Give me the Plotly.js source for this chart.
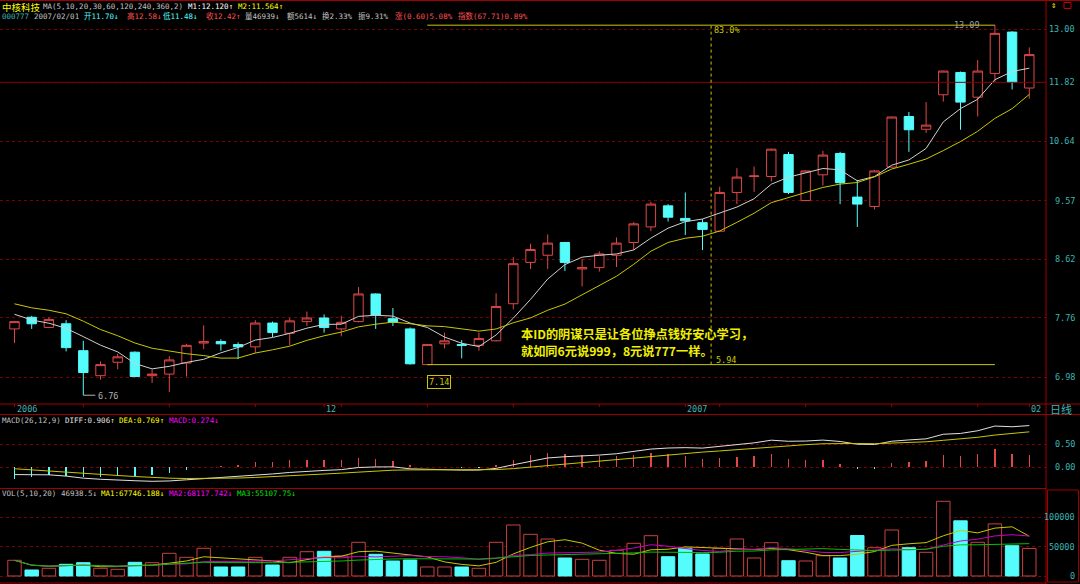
<!DOCTYPE html>
<html><head><meta charset="utf-8">
<script src="https://cdn.plot.ly/plotly-3.0.1.min.js"></script>
<style>html,body{margin:0;padding:0;background:#000;}#chart{width:1080px;height:584px;}</style>
</head><body><div id="chart"></div>
<script>
// ---------------- data ----------------
const dates = [
 '2006-11-07','2006-11-08','2006-11-09','2006-11-10','2006-11-13','2006-11-14','2006-11-15','2006-11-16','2006-11-17',
 '2006-11-20','2006-11-21','2006-11-22','2006-11-23','2006-11-24','2006-11-27','2006-11-28','2006-11-29','2006-11-30',
 '2006-12-01','2006-12-04','2006-12-05','2006-12-06','2006-12-07','2006-12-08','2006-12-11','2006-12-12','2006-12-13',
 '2006-12-14','2006-12-15','2006-12-18','2006-12-19','2006-12-20','2006-12-21','2006-12-22','2006-12-25','2006-12-26',
 '2006-12-27','2006-12-28','2006-12-29',
 '2007-01-04','2007-01-05','2007-01-08','2007-01-09','2007-01-10','2007-01-11','2007-01-12','2007-01-15','2007-01-16',
 '2007-01-17','2007-01-18','2007-01-19','2007-01-22','2007-01-23','2007-01-24','2007-01-25','2007-01-26','2007-01-29',
 '2007-01-30','2007-01-31','2007-02-01'];
const open  = [7.61,7.77,7.63,7.68,7.32,7.00,7.17,7.30,7.00,7.02, 7.16,7.42,7.44,7.40,7.37,7.69,7.55,7.71,7.76,7.61,
               7.71,8.10,7.75,7.61,7.14,7.41,7.40,7.39,7.45,7.96, 8.57,8.68,8.88,8.47,8.49,8.68,8.88,9.13,9.48,9.27,
               9.20,9.06,9.71,9.99,9.99,10.39,9.57,10.02,10.41,9.63, 9.47,10.16,11.12,10.87,11.56,12.03,11.51,12.01,12.93,11.70];
const high  = [7.72,7.79,7.77,7.73,7.45,7.18,7.28,7.31,7.08,7.25, 7.41,7.66,7.47,7.43,7.73,7.71,7.76,7.85,7.81,7.79,
               8.20,8.11,7.90,7.63,7.41,7.56,7.46,7.56,8.11,8.65, 8.86,9.01,8.89,8.62,8.74,8.96,9.21,9.55,9.51,9.71,
               9.26,9.81,10.14,10.17,10.50,10.44,10.10,10.46,10.44,9.93, 10.11,11.12,11.21,11.41,12.07,12.05,12.30,13.09,12.95,12.58];
const low   = [7.42,7.61,7.62,7.31,6.76,6.95,7.08,6.98,6.91,6.80, 6.99,7.34,7.32,7.21,7.29,7.50,7.39,7.65,7.56,7.51,
               7.70,7.61,7.65,7.14,7.14,7.35,7.22,7.32,7.44,7.88, 8.47,8.47,8.44,8.21,8.43,8.50,8.76,9.06,9.22,9.00,
               8.76,9.05,9.51,9.72,9.90,9.68,9.56,9.83,9.51,9.13, 9.42,10.15,10.44,10.80,11.42,10.86,11.12,11.83,11.67,11.48];
const close = [7.71,7.68,7.74,7.36,7.04,7.14,7.24,6.99,7.02,7.20, 7.39,7.44,7.41,7.37,7.69,7.56,7.72,7.76,7.63,7.70,
               8.10,7.80,7.70,7.15,7.40,7.45,7.39,7.48,7.92,8.55, 8.77,8.87,8.57,8.49,8.70,8.87,9.18,9.51,9.29,9.23,
               9.09,9.71,9.98,10.00,10.49,9.71,10.09,10.38,9.88,9.51, 10.09,11.11,10.86,10.95,12.06,11.41,12.06,12.90,11.82,12.42];
const volume = [26747,10222,13118,19932,22658,13118,11414,23339,22658,38672, 31857,47190,15332,15332,31857,18740,31857,41397,42079,34072,
                57411,36968,25554,27258,15332,15332,15332,13118,57411,86884, 71040,63033,30665,28450,26747,43783,55708,68655,32879,47190,
                37479,47190,63033,30665,56730,26065,25554,34583,30665,69014, 48212,78366,48212,40375,127281,94000,57411,88763,51619,46938.5];
// closes of the nine sessions before the window (estimated from where the MA lines start)
const priorCloses = [8.25,8.08,7.86,8.06,8.28,8.08,7.96,7.71,7.60];
// EMA state just before the first session (estimated from the MACD panel)
const emaSeed = {ema12: 7.95, ema26: 8.10, dea: 0.0};

const priceTicks = [13.00, 11.82, 10.64, 9.57, 8.62, 7.76, 6.98];
const priceTickText = ['13.00','11.82','10.64','9.57','8.62','7.76','6.98'];
const macdTicks = [0.50, 0.00];
const macdTickText = ['0.50','0.00'];
const volTicks = [100000, 50000, 0];
const volTickText = ['100000','50000','0'];
const dateLabelIdx = [0, 18, 39, 59];
const dateLabelText = ['2006','12','2007','02'];
const rangeStart = 24, rangeEnd = 57;   // the statistics box drawn on the chart

// ---------------- derived series ----------------
const idx = dates.map((d, i) => i);
const up = close.map((c, i) => c >= open[i]);
const avg = a => a.reduce((s, v) => s + v, 0) / a.length;
const allCloses = priorCloses.concat(close);
const P = priorCloses.length;
const ma5 = close.map((c, i) => avg(allCloses.slice(i + P - 4, i + P + 1)));
const ma10 = close.map((c, i) => avg(allCloses.slice(i + P - 9, i + P + 1)));
const volMA = n => volume.map((v, i) => avg(volume.slice(Math.max(0, i - n + 1), i + 1)));
const vma5 = volMA(5), vma10 = volMA(10), vma20 = volMA(20);
let e12 = emaSeed.ema12, e26 = emaSeed.ema26, dea = emaSeed.dea;
const diffS = [], deaS = [], macdS = [];
close.forEach(c => {
  e12 = e12 * 11 / 13 + c * 2 / 13;
  e26 = e26 * 25 / 27 + c * 2 / 27;
  const d = e12 - e26;
  dea = dea * 0.8 + d * 0.2;
  diffS.push(d); deaS.push(dea); macdS.push(2 * (d - dea));
});

// ---------------- style ----------------
const W = 1080, H = 584, PW = 1046;
const FRAME = '#a00000', GRID = '#7a0000', RED = '#e04848', CYAN = '#54fcfc', YEL = '#c8c800', TEAL = '#3cb4b4';
const MONO = 'DejaVu Sans Mono, Noto Sans CJK SC, monospace';
const CJK = 'Noto Sans CJK SC, sans-serif';
const HS = 7.5; // header font size
const fx = px => px / PW, fy = py => 1 - py / H;

const traces = [
  {type:'candlestick', x: idx, open, high, low, close, xaxis:'x', yaxis:'y', whiskerwidth: 0,
   increasing:{line:{color: RED, width: 1}, fillcolor:'#000000'},
   decreasing:{line:{color: CYAN, width: 1}, fillcolor: CYAN}, hoverinfo:'skip'},
  {type:'scatter', mode:'lines', x: idx, y: ma5, yaxis:'y', line:{color:'#d0d0d0', width:1}, hoverinfo:'skip'},
  {type:'scatter', mode:'lines', x: idx, y: ma10, yaxis:'y', line:{color: YEL, width:1}, hoverinfo:'skip'},
  {type:'bar', x: idx, y: macdS, yaxis:'y2', width: 0.09,
   marker:{color: macdS.map(v => v >= 0 ? RED : CYAN), line:{width:0}}, hoverinfo:'skip'},
  {type:'scatter', mode:'lines', x: idx, y: diffS, yaxis:'y2', line:{color:'#e0e0e0', width:1}, hoverinfo:'skip'},
  {type:'scatter', mode:'lines', x: idx, y: deaS, yaxis:'y2', line:{color: YEL, width:1}, hoverinfo:'skip'},
  {type:'bar', x: idx, y: volume, yaxis:'y3', width: 0.78,
   marker:{color: up.map(u => u ? '#000000' : CYAN), line:{color: up.map(u => u ? '#c84040' : CYAN), width:1}}, hoverinfo:'skip'},
  {type:'scatter', mode:'lines', x: idx, y: vma5, yaxis:'y3', line:{color: YEL, width:1}, hoverinfo:'skip'},
  {type:'scatter', mode:'lines', x: idx, y: vma10, yaxis:'y3', line:{color:'#c800c8', width:1}, hoverinfo:'skip'},
  {type:'scatter', mode:'lines', x: idx, y: vma20, yaxis:'y3', line:{color:'#00c000', width:1}, hoverinfo:'skip'}
];

const shapes = [];
const hline = (py, x0, x1, color, dash) => shapes.push({type:'line', xref:'paper', yref:'paper', x0, x1, y0: fy(py), y1: fy(py), line:{color, width:1, dash: dash || 'solid'}});
// frame
hline(0.5, 0, W / PW, FRAME);
hline(404, 0, W / PW, FRAME);
hline(414.5, 0, W / PW, FRAME);
hline(488.5, 0, 1, FRAME);
hline(583, 0, 1, FRAME);
shapes.push({type:'line', xref:'paper', yref:'paper', x0:1, x1:1, y0:0, y1:1, line:{color: FRAME, width:1}});
shapes.push({type:'rect', xref:'paper', yref:'paper', x0: fx(1047.5), x1: fx(1078.5), y0: fy(582), y1: fy(490), line:{color: FRAME, width:1}});
shapes.push({type:'rect', xref:'paper', yref:'paper', x0: fx(1064), x1: fx(1071), y0: fy(8.5), y1: fy(2.5), line:{color: '#c00000', width:1}});
// previous-close line (solid)
shapes.push({type:'line', xref:'paper', yref:'y', x0:0, x1:1, y0: close[58], y1: close[58], line:{color:'#800000', width:1}});
// weekly ticks on the date strip
dates.forEach((d, i) => {
  const dow = new Date(d + 'T00:00:00Z').getUTCDay();
  if (dow === 1 || dateLabelIdx.includes(i)) {
    shapes.push({type:'line', xref:'x', yref:'paper', x0: i, x1: i, y0: fy(404), y1: fy(407), line:{color: FRAME, width:1}});
  }
});
// statistics box
shapes.push({type:'line', xref:'x', yref:'y', x0: rangeStart, x1: rangeEnd, y0: high[rangeEnd], y1: high[rangeEnd], line:{color: YEL, width:1}});
shapes.push({type:'line', xref:'x', yref:'y', x0: rangeStart, x1: rangeEnd, y0: low[rangeStart], y1: low[rangeStart], line:{color: YEL, width:1}});
shapes.push({type:'line', xref:'x', yref:'y', x0: (rangeStart + rangeEnd) / 2, x1: (rangeStart + rangeEnd) / 2, y0: low[rangeStart], y1: high[rangeEnd], line:{color: YEL, width:1, dash:'dot'}});
shapes.push({type:'line', xref:'x', yref:'y', ysizemode:'pixel', yanchor: low[rangeStart], x0: rangeStart, x1: rangeStart, y0: 0, y1: -10, line:{color: YEL, width:1}});
// 6.76 pointer
const lowIdx = low.indexOf(Math.min(...low));
shapes.push({type:'line', xref:'x', yref:'y', xsizemode:'pixel', xanchor: lowIdx, ysizemode:'pixel', yanchor: low[lowIdx], x0: 0, x1: 12, y0: 0, y1: -1.5, line:{color:'#b0b0b0', width:1}});

const ann = [];
const note = (x, y, text, color, size, family, extra) => ann.push(Object.assign({
  xref:'paper', yref:'paper', x: fx(x), y: fy(y), text, showarrow:false, xanchor:'left', yanchor:'middle',
  font:{family: family || MONO, size: size || HS, color}}, extra || {}));
// header row 1
note(0, 6.5, '中核科技', '#ffff00', 9.5, CJK);
note(40.7, 6.5, 'MA(5,10,20,30,60,120,240,360,2)', '#c0c0c0');
note(186, 6.5, 'M1:12.120↑', '#ffffff');
note(235.7, 6.5, 'M2:11.564↑', '#ffff00');
// header row 2
note(0, 16.5, '000777', '#3cb4b4');
note(31.7, 16.5, '2007/02/01', '#c0c0c0');
note(82, 16.5, '开11.70↓', CYAN);
note(125, 16.5, '高12.58↓', '#ff5050');
note(160.5, 16.5, '低11.48↓', CYAN);
note(203.6, 16.5, '收12.42↑', '#ff5050');
note(243, 16.5, '量46939↓', '#c0c0c0');
note(284.7, 16.5, '额5614↓', '#c0c0c0');
note(320, 16.5, '换2.33%', '#c0c0c0');
note(356, 16.5, '振9.31%', '#c0c0c0');
note(392.7, 16.5, '涨(0.60)5.08%', '#ff5050');
note(456, 16.5, '指数(67.71)0.89%', '#ff5050');
note(1049, 5.5, '⇕', '#ffff00', 9);
// MACD header
note(0, 420.5, 'MACD(26,12,9)', '#c0c0c0');
note(63, 420.5, 'DIFF:0.906↑', '#e0e0e0');
note(117, 420.5, 'DEA:0.769↑', '#ffff00');
note(167, 420.5, 'MACD:0.274↓', '#ff00ff');
// VOL header
note(0, 493.3, 'VOL(5,10,20)', '#c0c0c0');
note(58.7, 493.3, '46938.5↓', '#c0c0c0');
note(99, 493.3, 'MA1:67746.188↓', '#ffff00');
note(167, 493.3, 'MA2:68117.742↓', '#ff00ff');
note(235, 493.3, 'MA3:55107.75↓', '#00e000');
// right axis labels
priceTicks.forEach((v, i) => ann.push({xref:'paper', yref:'y', x: fx(1077), y: Math.log10(v), text: priceTickText[i], showarrow:false, xanchor:'right', yanchor:'middle', font:{family: MONO, size: 8.5, color: TEAL}}));
macdTicks.forEach((v, i) => ann.push({xref:'paper', yref:'y2', x: fx(1077), y: v, text: macdTickText[i], showarrow:false, xanchor:'right', yanchor:'middle', font:{family: MONO, size: 8.5, color: TEAL}}));
volTicks.forEach((v, i) => ann.push({xref:'paper', yref:'y3', x: fx(1077), y: v, text: volTickText[i], showarrow:false, xanchor:'right', yanchor:'middle', font:{family: MONO, size: 8.5, color: TEAL}}));
// date labels
dateLabelIdx.forEach((i, k) => ann.push({xref:'x', yref:'paper', x: i, y: fy(409.3), text: dateLabelText[k], showarrow:false, xanchor:'left', yanchor:'middle', xshift: 0, font:{family: MONO, size: 8.5, color: TEAL}}));
note(1048, 409, '日线', TEAL, 11, CJK);
// chart marks
ann.push({xref:'x', yref:'y', x: lowIdx, y: Math.log10(low[lowIdx]), text: low[lowIdx].toFixed(2), showarrow:false, xanchor:'left', yanchor:'middle', xshift: 13, yshift: -1, font:{family: MONO, size: 8.5, color:'#b0b0b0'}});
ann.push({xref:'x', yref:'y', x: rangeStart, y: Math.log10(low[rangeStart]), text: low[rangeStart].toFixed(2), showarrow:false, xanchor:'left', yanchor:'top', yshift: -10, xshift: 0,
          bordercolor: YEL, borderwidth: 1, borderpad: 1, font:{family: MONO, size: 8.5, color: YEL}});
ann.push({xref:'x', yref:'y', x: rangeEnd, y: Math.log10(high[rangeEnd]), text: high[rangeEnd].toFixed(2), showarrow:false, xanchor:'right', yanchor:'middle', xshift: -13, yshift: 0, font:{family: MONO, size: 8.5, color:'#a0a0a0'}});
ann.push({xref:'x', yref:'y', x: (rangeStart + rangeEnd) / 2, y: Math.log10(high[rangeEnd]), text: '83.0%', showarrow:false, xanchor:'left', yanchor:'middle', xshift: 1, yshift: -5, font:{family: MONO, size: 8.5, color: YEL}});
ann.push({xref:'x', yref:'y', x: (rangeStart + rangeEnd) / 2, y: Math.log10(low[rangeStart]), text: '5.94', showarrow:false, xanchor:'left', yanchor:'middle', xshift: 3, yshift: 5, font:{family: MONO, size: 8.5, color: YEL}});
// message
note(519, 334, '<b>本ID的阴谋只是让各位挣点钱好安心学习，</b>', '#f0f000', 12.2, CJK);
note(519, 351, '<b>就如同6元说999，8元说777一样。</b>', '#f0f000', 12.2, CJK);

const axisBase = {showticklabels:false, ticks:'', zeroline:false, showline:false, fixedrange:true, gridcolor: GRID, griddash:'dot', gridwidth:1};
const layout = {
  width: W, height: H, margin:{l:0, r: W - PW, t:0, b:0, pad:0},
  paper_bgcolor:'#000000', plot_bgcolor:'#000000', showlegend:false, boxgap: 0.22, bargap: 0,
  xaxis:{range:[-0.843, 59.971], showgrid:false, zeroline:false, showticklabels:false, ticks:'', showline:false, fixedrange:true, rangeslider:{visible:false}},
  yaxis: Object.assign({}, axisBase, {domain:[fy(404), 1], type:'log', range:[Math.log10(6.655), Math.log10(13.692)], tickvals: priceTicks}),
  yaxis2: Object.assign({}, axisBase, {domain:[fy(488.3), fy(414.5)], range:[-0.4565, 1.148], tickvals: macdTicks}),
  yaxis3: Object.assign({}, axisBase, {domain:[fy(582.7), fy(488.3)], range:[-11414, 149406], tickvals: volTicks}),
  shapes, annotations: ann
};
Plotly.newPlot('chart', traces, layout, {staticPlot:true, displayModeBar:false});
</script></body></html>
